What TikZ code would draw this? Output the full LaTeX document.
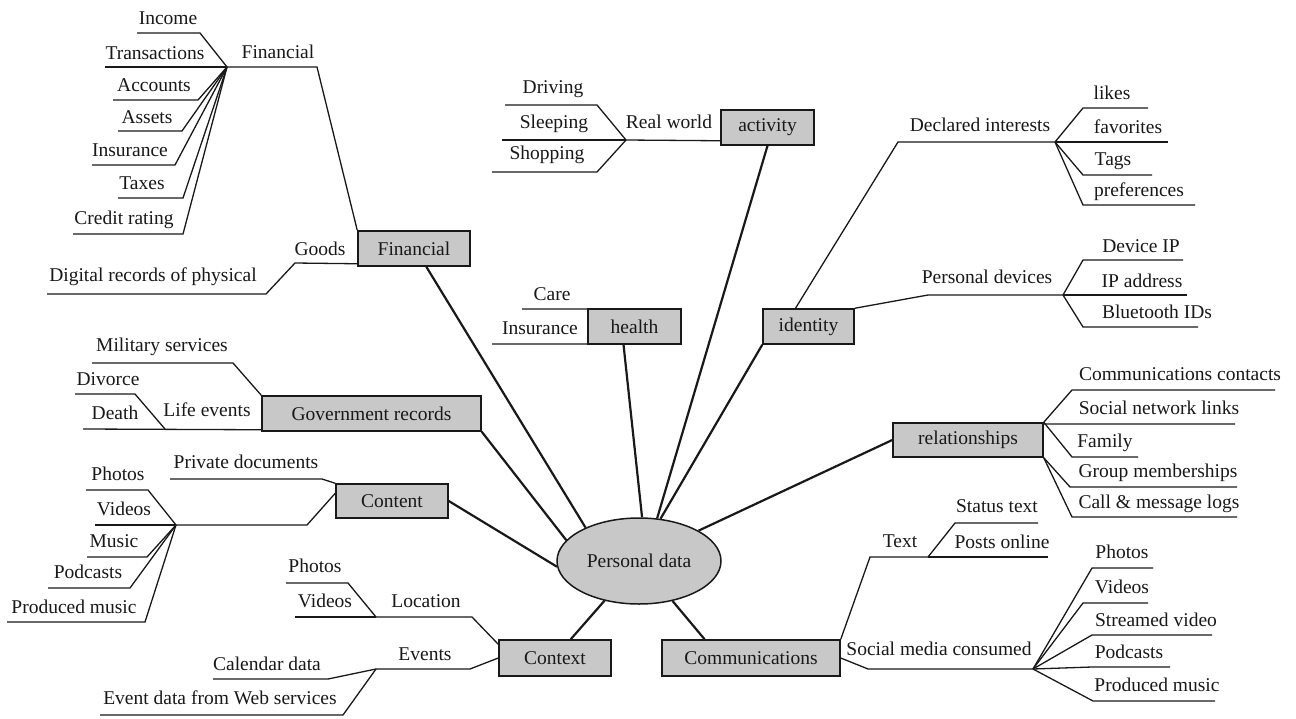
\documentclass[tikz,border=0pt]{standalone}
\usepackage{fontspec}
\setmainfont{Liberation Serif}
\usetikzlibrary{shapes.geometric,calc}
\definecolor{boxgray}{RGB}{200,200,200}
\definecolor{ink}{RGB}{25,25,25}
\newcommand\mkleaf[8]{%
  \node[lbl] (#1) at (#3,#4) {#2};
  \coordinate (#1-f) at (#6,#5);
  \coordinate (#1-n) at (#7,#5);
  \draw[br] (#1-f) -- (#1-n) -- (#8);
}
\begin{document}
\begin{tikzpicture}[x=1pt,y=-1pt,
  txtfont/.style={font=\fontsize{19.5}{22}\selectfont, text=ink},
  lbl/.style={txtfont, anchor=base, inner sep=0pt},
  bx/.style={txtfont, draw=ink, fill=boxgray, line width=1.5pt, inner sep=0pt},
  ell/.style={txtfont, ellipse, draw=ink, fill=boxgray, line width=1.5pt, inner sep=0pt, minimum width=164pt, minimum height=86pt},
  spoke/.style={draw=ink, line width=2.2pt},
  br/.style={draw=ink, line width=1.3pt, line join=miter}]
\useasboundingbox (0,0) rectangle (1296,718);
\fill[white] (0,0) rectangle (1296,718);

% ---------- main nodes ----------
\node[bx, minimum width=112pt, minimum height=35pt] (fin) at (414,248.5) {Financial};
\node[bx, minimum width=93pt, minimum height=35pt] (act) at (767.5,127.5) {activity};
\node[bx, minimum width=93pt, minimum height=35pt] (hea) at (634.5,326.5) {health};
\node[bx, minimum width=91pt, minimum height=35pt] (ide) at (808.5,326.5) {identity};
\node[bx, minimum width=219pt, minimum height=35pt] (gov) at (371.5,413.5) {Government records};
\node[bx, minimum width=112pt, minimum height=34pt] (con) at (392,501) {Content};
\node[bx, minimum width=150pt, minimum height=34pt] (rel) at (968,440) {relationships};
\node[bx, minimum width=112pt, minimum height=36pt] (ctx) at (555,658) {Context};
\node[bx, minimum width=178pt, minimum height=36pt] (com) at (751,658) {Communications};
\node[ell] (el) at (639,561) {Personal data};

% ---------- spokes ----------
\draw[spoke] (fin.-56) -- (el.148);
\draw[spoke] (act.south) -- (el.67);
\draw[spoke] (ide.south west) -- (el.63);
\draw[spoke] (hea.-121) -- (el.86);
\draw[spoke] (gov.south east) -- (el.164);
\draw[spoke] (con.east) -- (el.-176);
\draw[spoke] (ctx.50) -- (el.-131);
\draw[spoke] (com.158) -- (el.-50);
\draw[spoke] (rel.west) -- (el.27);

% ---------- Financial ----------
\coordinate (FH) at (227,67);
\coordinate (F1) at (317,67);
\node[lbl] (finlbl) at (278,58) {Financial};
\draw[br] (FH) -- (F1) -- (fin.north west);
\mkleaf{income}{Income}{168}{24}{33}{137}{200}{FH}
\mkleaf{trans}{Transactions}{155}{59}{67}{105}{227}{FH}
\mkleaf{acc}{Accounts}{154}{91}{100}{113}{198}{FH}
\mkleaf{assets}{Assets}{147}{123}{131}{118}{182}{FH}
\mkleaf{insf}{Insurance}{130}{156}{165}{92}{175}{FH}
\mkleaf{taxes}{Taxes}{142}{189}{198}{118}{183}{FH}
\mkleaf{credit}{Credit rating}{124}{224}{234}{73}{183}{FH}
\coordinate (G1) at (295,263);
\coordinate (G2) at (266,294);
\coordinate (G3) at (47,294);
\draw[br] ($(fin.south west)+(0,-3)$) -- (G1) -- (G2) -- (G3);
\node[lbl] (goods) at (320,255) {Goods};
\node[lbl] (digi) at (153,281) {Digital records of physical};

% ---------- activity ----------
\coordinate (AH) at (626,140);
\draw[br] (AH) -- ($(act.south west)+(0,-5)$);
\node[lbl] (rw) at (669,128) {Real world};
\mkleaf{driving}{Driving}{553}{93}{105}{505}{597}{AH}
\mkleaf{sleeping}{Sleeping}{554}{128}{140}{502}{626}{AH}
\mkleaf{shopping}{Shopping}{547}{159}{172}{492}{597}{AH}

% ---------- health ----------
\mkleaf{care}{Care}{552}{300}{309}{522}{588}{hea.north west}
\mkleaf{insh}{Insurance}{540}{334}{344}{492}{588}{hea.south west}

% ---------- identity ----------
\coordinate (DI1) at (898,142);
\coordinate (DH) at (1055,142);
\draw[br] ($(ide.north)+(-13,0)$) -- (DI1) -- (DH);
\node[lbl] (decl) at (980,131) {Declared interests};
\mkleaf{likes}{likes}{1112}{99}{108}{1148}{1083}{DH}
\mkleaf{fav}{favorites}{1128}{133}{142}{1168}{1055}{DH}
\mkleaf{tags}{Tags}{1113}{165}{175}{1152}{1083}{DH}
\mkleaf{pref}{preferences}{1139}{196}{205}{1195}{1083}{DH}
\coordinate (PD1) at (928,295);
\coordinate (PH) at (1063,295);
\draw[br] (ide.north east) -- (PD1) -- (PH);
\node[lbl] (pdev) at (987,283) {Personal devices};
\mkleaf{devip}{Device IP}{1141}{252}{260}{1183}{1083}{PH}
\mkleaf{ipaddr}{IP address}{1142}{287}{295}{1187}{1063}{PH}
\mkleaf{bt}{Bluetooth IDs}{1157}{318}{327}{1198}{1083}{PH}

% ---------- relationships ----------
\mkleaf{cc}{Communications contacts}{1180}{380}{390}{1275}{1072}{rel.north east}
\mkleaf{snl}{Social network links}{1159}{414}{424}{1235}{1043}{rel.north east}
\mkleaf{fam}{Family}{1105}{447}{457}{1138}{1072}{rel.north east}
\mkleaf{grp}{Group memberships}{1158}{477}{487}{1237}{1070}{rel.south east}
\mkleaf{call}{Call \& message logs}{1159}{508}{517}{1237}{1072}{rel.south east}

% ---------- Government records ----------
\mkleaf{mil}{Military services}{162}{351}{363}{92}{233}{gov.north west}
\coordinate (LE) at (165,429);
\coordinate (LB) at (83,429);
\draw[br] ($(gov.south west)+(0,-2)$) -- (LB);
\node[lbl] (life) at (207,416) {Life events};
\mkleaf{div}{Divorce}{108}{385}{394}{75}{135}{LE}
\node[lbl] (death) at (115,419) {Death};

% ---------- Content ----------
\mkleaf{priv}{Private documents}{246}{468}{479}{170}{322}{con.north west}
\coordinate (C1) at (307,525);
\coordinate (CH) at (176,525);
\draw[br] ($(con.north west)+(0,10)$) -- (C1) -- (CH);
\mkleaf{cph}{Photos}{118}{480}{490}{86}{148}{CH}
\mkleaf{cvid}{Videos}{124}{515}{525}{95}{176}{CH}
\mkleaf{cmus}{Music}{114}{547}{557}{87}{147}{CH}
\mkleaf{cpod}{Podcasts}{88}{578}{588}{48}{130}{CH}
\mkleaf{cpm}{Produced music}{74}{613}{622}{7}{145}{CH}

% ---------- Context ----------
\coordinate (L1) at (472,617);
\coordinate (LH) at (376,617);
\draw[br] ($(ctx.north west)+(0,5)$) -- (L1) -- (LH);
\node[lbl] (loc) at (426,607) {Location};
\mkleaf{xph}{Photos}{315}{572}{583}{286}{348}{LH}
\mkleaf{xvid}{Videos}{325}{607}{617}{295}{376}{LH}
\coordinate (E1) at (470,669);
\coordinate (EH) at (376,669);
\draw[br] (ctx.west) -- (E1) -- (EH);
\node[lbl] (events) at (425,660) {Events};
\mkleaf{cal}{Calendar data}{267}{670}{679}{213}{328}{EH}
\mkleaf{evd}{Event data from Web services}{220}{704}{715}{100}{343}{EH}

% ---------- Communications ----------
\coordinate (T1) at (870,557);
\coordinate (TH) at (928,557);
\draw[br] (com.north east) -- (T1) -- (TH);
\node[lbl] (txt) at (900,547) {Text};
\mkleaf{stat}{Status text}{997}{512}{523}{1038}{955}{TH}
\mkleaf{posts}{Posts online}{1002}{548}{557}{1048}{928}{TH}
\coordinate (S1) at (868,669);
\coordinate (SH) at (1033,669);
\draw[br] (com.east) -- (S1) -- (SH);
\node[lbl] (smc) at (939,655) {Social media consumed};
\mkleaf{sph}{Photos}{1122}{558}{568}{1153}{1092}{SH}
\mkleaf{svid}{Videos}{1122}{593}{603}{1148}{1083}{SH}
\mkleaf{sstr}{Streamed video}{1156}{626}{635}{1212}{1092}{SH}
\mkleaf{spod}{Podcasts}{1129}{658}{667}{1170}{1092}{SH}
\mkleaf{spm}{Produced music}{1157}{691}{701}{1215}{1093}{SH}
\end{tikzpicture}
\end{document}
